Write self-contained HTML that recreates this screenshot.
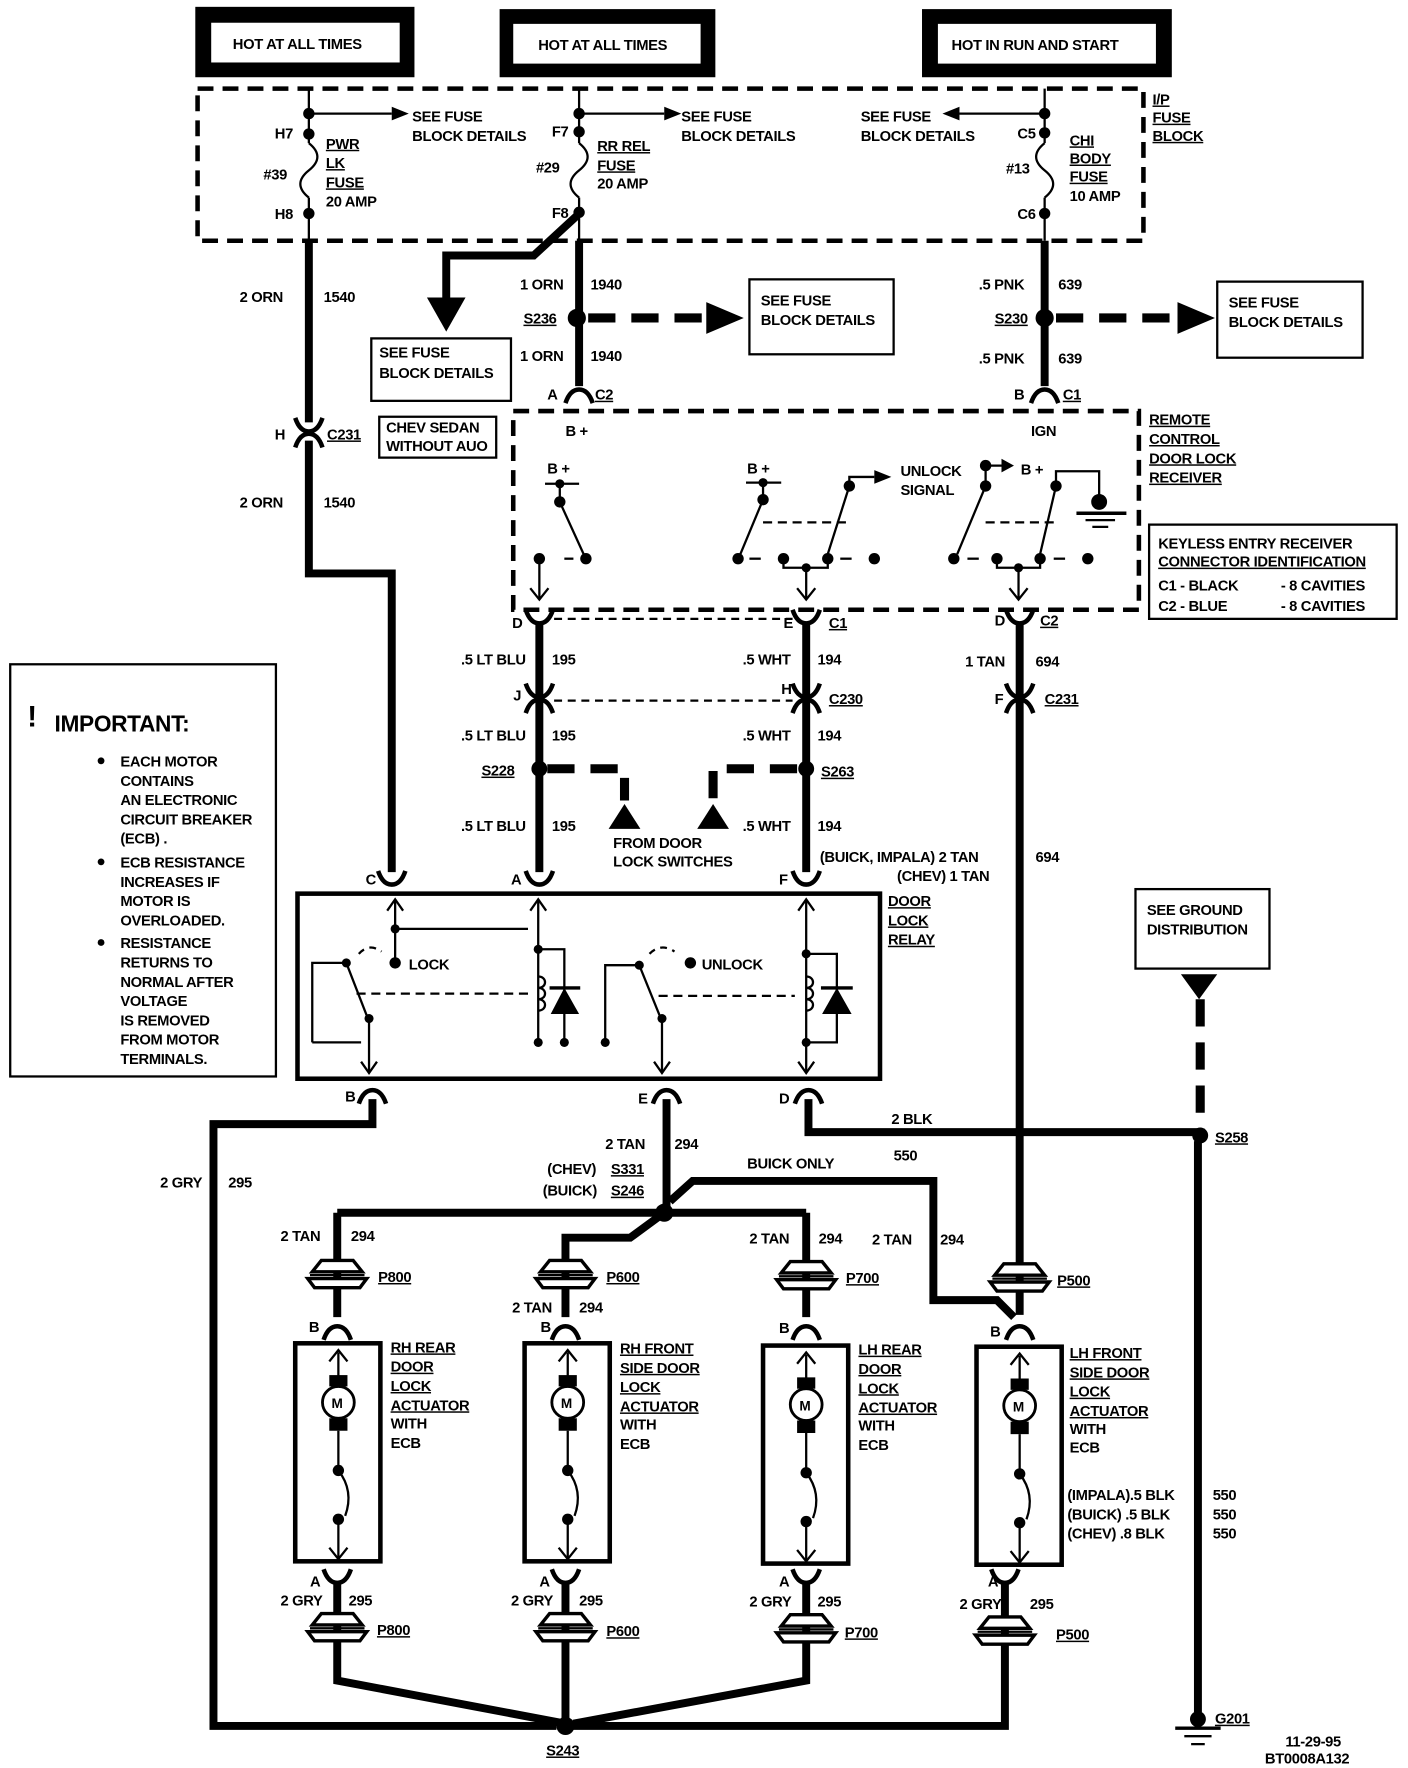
<!DOCTYPE html>
<html><head><meta charset="utf-8"><style>
html,body{margin:0;padding:0;background:#fff;}
svg{display:block;}
text{font-family:"Liberation Sans",sans-serif;font-weight:bold;font-size:13px;fill:#000;letter-spacing:-0.3px;}
.u{text-decoration:underline;}
</style></head><body>
<svg width="1408" height="1768" viewBox="0 0 1240 1557" xmlns="http://www.w3.org/2000/svg">
<defs>
<g id="cf"><path d="M-12,-8 Q-8,4 0,4 Q8,4 12,-8" fill="none" stroke="#000" stroke-width="4"/></g>
<g id="cm"><path d="M-12,8 Q-8,-4 0,-4 Q8,-4 12,8" fill="none" stroke="#000" stroke-width="4"/></g>
<g id="pc">
<path d="M-22,-4 L-14,-14 L14,-14 L22,-4 Z" fill="#fff" stroke="#000" stroke-width="3"/>
<path d="M-26,2 L26,2 L20,10 L-20,10 Z" fill="#fff" stroke="#000" stroke-width="3"/>
<line x1="-24" y1="-1" x2="24" y2="-1" stroke="#000" stroke-width="2"/>
</g>
<g id="act">
<rect x="0" y="0" width="75" height="192" fill="none" stroke="#000" stroke-width="4"/>
<line x1="38" y1="8" x2="38" y2="30" stroke="#000" stroke-width="2"/>
<path d="M30,16 L38,6 L46,16" fill="none" stroke="#000" stroke-width="2"/>
<rect x="30" y="28" width="16" height="10" fill="#000"/>
<circle cx="38" cy="52" r="14" fill="#fff" stroke="#000" stroke-width="2.5"/>
<text x="32" y="57" style="font-size:12px">M</text>
<rect x="30" y="66" width="16" height="11" fill="#000"/>
<line x1="38" y1="77" x2="38" y2="110" stroke="#000" stroke-width="2"/>
<circle cx="38" cy="112" r="5"/>
<path d="M38,112 Q52,130 44,152" fill="none" stroke="#000" stroke-width="2"/>
<circle cx="38" cy="155" r="5"/>
<line x1="38" y1="155" x2="38" y2="190" stroke="#000" stroke-width="2"/>
<path d="M30,180 L38,190 L46,180" fill="none" stroke="#000" stroke-width="2"/>
</g>
</defs>

<rect x="172" y="6" width="193" height="62" fill="#000"/><rect x="186" y="20" width="166" height="35" fill="#fff"/>
<text x="205" y="43">HOT AT ALL TIMES</text>
<rect x="440" y="8" width="190" height="60" fill="#000"/><rect x="452" y="21" width="165" height="35" fill="#fff"/>
<text x="474" y="44">HOT AT ALL TIMES</text>
<rect x="812" y="8" width="220" height="60" fill="#000"/><rect x="826" y="21" width="192" height="35" fill="#fff"/>
<text x="838" y="44">HOT IN RUN AND START</text>

<rect x="174" y="78" width="833" height="134" fill="none" stroke="#000" stroke-width="4" stroke-dasharray="14,8"/>
<text x="1015" y="92" class="u">I/P</text><text x="1015" y="108" class="u">FUSE</text><text x="1015" y="124" class="u">BLOCK</text>

<g stroke="#000" stroke-width="2" fill="none">
<line x1="272" y1="78" x2="272" y2="126"/><path d="M272,126 c10,8 10,16 0,24 c-10,8 -10,16 0,24"/><line x1="272" y1="174" x2="272" y2="212"/>
<line x1="272" y1="100" x2="345" y2="100"/>
<line x1="510" y1="78" x2="510" y2="126"/><path d="M510,126 c10,8 10,16 0,24 c-10,8 -10,16 0,24"/><line x1="510" y1="174" x2="510" y2="212"/>
<line x1="510" y1="100" x2="585" y2="100"/>
<line x1="920" y1="78" x2="920" y2="126"/><path d="M920,126 c-10,8 -10,16 0,24 c10,8 10,16 0,24"/><line x1="920" y1="174" x2="920" y2="212"/>
<line x1="920" y1="100" x2="845" y2="100"/>
</g>
<path d="M345,94 L360,100 L345,106Z"/><path d="M585,94 L600,100 L585,106Z"/><path d="M845,94 L830,100 L845,106Z"/>
<circle cx="272" cy="100" r="5"/><circle cx="272" cy="118" r="5"/><circle cx="272" cy="188" r="5"/>
<circle cx="510" cy="100" r="5"/><circle cx="510" cy="116" r="5"/><circle cx="510" cy="187" r="5"/>
<circle cx="920" cy="100" r="5"/><circle cx="920" cy="117" r="5"/><circle cx="920" cy="188" r="5"/>
<text x="363" y="107">SEE FUSE</text><text x="363" y="124">BLOCK DETAILS</text>
<text x="600" y="107">SEE FUSE</text><text x="600" y="124">BLOCK DETAILS</text>
<text x="758" y="107">SEE FUSE</text><text x="758" y="124">BLOCK DETAILS</text>
<text x="242" y="122">H7</text><text x="232" y="158">#39</text><text x="242" y="193">H8</text>
<text x="287" y="131" class="u">PWR</text><text x="287" y="148" class="u">LK</text><text x="287" y="165" class="u">FUSE</text><text x="287" y="182">20 AMP</text>
<text x="486" y="120">F7</text><text x="472" y="152">#29</text><text x="486" y="192">F8</text>
<text x="526" y="133" class="u">RR REL</text><text x="526" y="150" class="u">FUSE</text><text x="526" y="166">20 AMP</text>
<text x="896" y="122">C5</text><text x="886" y="153">#13</text><text x="896" y="193">C6</text>
<text x="942" y="128" class="u">CHI</text><text x="942" y="144" class="u">BODY</text><text x="942" y="160" class="u">FUSE</text><text x="942" y="177">10 AMP</text>

<g stroke="#000" stroke-width="7" fill="none">
<polyline points="272,212 272,372"/><polyline points="272,388 272,505 345,505 345,768"/>
<line x1="510" y1="212" x2="510" y2="340"/>
<polyline points="508,190 470,225 393,225 393,262"/>
<line x1="920" y1="212" x2="920" y2="340"/>
<line x1="475" y1="548" x2="475" y2="768"/>
<line x1="710" y1="548" x2="710" y2="768"/>
<line x1="898" y1="548" x2="898" y2="1158"/>
<polyline points="328,968 328,990 188,990 188,1520 490,1520"/>
<line x1="587" y1="968" x2="587" y2="1068"/>
<line x1="297" y1="1068" x2="710" y2="1068"/>
<polyline points="590,1058 610,1040 822,1040 822,1145 878,1145 893,1160"/>
<line x1="297" y1="1068" x2="297" y2="1160"/>
<polyline points="585,1068 555,1090 498,1090 498,1160"/>
<line x1="710" y1="1068" x2="710" y2="1160"/>
<polyline points="712,968 712,997 1055,997"/>
<line x1="1055" y1="1005" x2="1055" y2="1508"/>
<polyline points="297,1395 297,1480 498,1518"/>
<line x1="498" y1="1395" x2="498" y2="1515"/>
<polyline points="710,1395 710,1480 505,1518"/>
<polyline points="885,1395 885,1520 505,1520"/>
</g>
<path d="M376,262 L410,262 L393,292Z"/>
<g stroke="#000" stroke-width="8" fill="none" stroke-dasharray="24,14">
<line x1="518" y1="280" x2="625" y2="280"/><line x1="930" y1="280" x2="1040" y2="280"/>
<polyline points="482,677 550,677 550,705"/><polyline points="702,677 628,677 628,705"/>
<line x1="1057" y1="880" x2="1057" y2="995"/>
</g>
<path d="M622,266 L655,280 L622,294Z"/><path d="M1037,266 L1070,280 L1037,294Z"/>
<path d="M536,730 L564,730 L550,708Z"/>
<path d="M614,730 L642,730 L628,708Z"/>
<path d="M1040,858 L1072,858 L1056,880Z"/>
<circle cx="508" cy="280" r="8"/><circle cx="920" cy="280" r="8"/>
<circle cx="475" cy="677" r="7"/><circle cx="710" cy="677" r="7"/>
<circle cx="585" cy="1068" r="8"/><circle cx="1057" cy="1000" r="7"/><circle cx="498" cy="1520" r="8"/>

<text x="211" y="266">2 ORN</text><text x="285" y="266">1540</text>
<text x="458" y="255">1 ORN</text><text x="520" y="255">1940</text>
<text x="461" y="285" class="u">S236</text>
<text x="458" y="318">1 ORN</text><text x="520" y="318">1940</text>
<text x="862" y="255">.5 PNK</text><text x="932" y="255">639</text>
<text x="876" y="285" class="u">S230</text>
<text x="862" y="320">.5 PNK</text><text x="932" y="320">639</text>
<rect x="660" y="246" width="127" height="66" fill="none" stroke="#000" stroke-width="2"/>
<text x="670" y="269">SEE FUSE</text><text x="670" y="286">BLOCK DETAILS</text>
<rect x="1072" y="248" width="128" height="67" fill="none" stroke="#000" stroke-width="2"/>
<text x="1082" y="271">SEE FUSE</text><text x="1082" y="288">BLOCK DETAILS</text>
<rect x="327" y="298" width="123" height="55" fill="none" stroke="#000" stroke-width="2"/>
<text x="334" y="315">SEE FUSE</text><text x="334" y="333">BLOCK DETAILS</text>
<rect x="334" y="367" width="103" height="36" fill="none" stroke="#000" stroke-width="2"/>
<text x="340" y="381">CHEV SEDAN</text><text x="340" y="397">WITHOUT AUO</text>

<use href="#cf" x="272" y="376"/><use href="#cm" x="272" y="386"/>
<text x="242" y="387">H</text><text x="288" y="387" class="u">C231</text>
<text x="211" y="447">2 ORN</text><text x="285" y="447">1540</text>
<use href="#cm" x="510" y="347"/><text x="482" y="352">A</text><text x="524" y="352" class="u">C2</text>
<use href="#cm" x="920" y="347"/><text x="893" y="352">B</text><text x="936" y="352" class="u">C1</text>

<rect x="452" y="362" width="551" height="175" fill="none" stroke="#000" stroke-width="4" stroke-dasharray="14,8"/>
<text x="498" y="384">B +</text><text x="908" y="384">IGN</text>
<text x="1012" y="374" class="u">REMOTE</text><text x="1012" y="391" class="u">CONTROL</text><text x="1012" y="408" class="u">DOOR LOCK</text><text x="1012" y="425" class="u">RECEIVER</text>
<rect x="1012" y="462" width="218" height="83" fill="none" stroke="#000" stroke-width="2"/>
<text x="1020" y="483">KEYLESS ENTRY RECEIVER</text><text x="1020" y="499" class="u">CONNECTOR IDENTIFICATION</text>
<text x="1020" y="520">C1  -  BLACK</text><text x="1128" y="520">-  8 CAVITIES</text>
<text x="1020" y="538">C2  -  BLUE</text><text x="1128" y="538">-  8 CAVITIES</text>
<g stroke="#000" stroke-width="2" fill="none">
<line x1="480" y1="426" x2="510" y2="426"/><line x1="493" y1="426" x2="493" y2="442"/><line x1="493" y1="442" x2="514" y2="488"/>
<line x1="475" y1="492" x2="475" y2="528"/><path d="M467,518 L475,528 L483,518"/><line x1="497" y1="492" x2="505" y2="492"/>
<line x1="657" y1="425" x2="688" y2="425"/><line x1="672" y1="425" x2="672" y2="440"/><line x1="672" y1="440" x2="652" y2="488"/>
<polyline points="748,428 748,420 770,420"/><line x1="748" y1="428" x2="729" y2="488"/>
<line x1="672" y1="460" x2="748" y2="460" stroke-dasharray="8,5"/>
<polyline points="690,492 690,500 729,500 729,492"/><line x1="710" y1="500" x2="710" y2="528"/><path d="M702,518 L710,528 L718,518"/>
<line x1="660" y1="492" x2="670" y2="492"/><line x1="740" y1="492" x2="750" y2="492"/>
<polyline points="868,428 868,410 882,410"/><line x1="868" y1="428" x2="843" y2="488"/>
<polyline points="930,428 930,415 968,415 968,440"/><line x1="930" y1="428" x2="916" y2="488"/>
<line x1="868" y1="460" x2="930" y2="460" stroke-dasharray="8,5"/>
<polyline points="878,492 878,500 916,500 916,492"/><line x1="897" y1="500" x2="897" y2="528"/><path d="M889,518 L897,528 L905,518"/>
<line x1="852" y1="492" x2="862" y2="492"/><line x1="928" y1="492" x2="938" y2="492"/>
<line x1="948" y1="452" x2="992" y2="452" stroke-width="3"/><line x1="956" y1="458" x2="982" y2="458"/><line x1="962" y1="464" x2="976" y2="464"/>
</g>
<path d="M770,414 L785,420 L770,426Z"/><path d="M882,404 L893,410 L882,416Z"/>
<text x="793" y="419">UNLOCK</text><text x="793" y="436">SIGNAL</text><text x="899" y="418">B +</text>
<text x="658" y="417">B +</text><text x="482" y="417">B +</text>
<circle cx="493" cy="426" r="4"/><circle cx="493" cy="442" r="5"/><circle cx="516" cy="492" r="5"/><circle cx="475" cy="492" r="5"/>
<circle cx="672" cy="425" r="4"/><circle cx="672" cy="440" r="5"/><circle cx="748" cy="428" r="5"/><circle cx="650" cy="492" r="5"/><circle cx="690" cy="492" r="5"/><circle cx="729" cy="492" r="5"/><circle cx="770" cy="492" r="5"/><circle cx="710" cy="500" r="4"/>
<circle cx="868" cy="410" r="5"/><circle cx="868" cy="428" r="5"/><circle cx="930" cy="428" r="5"/><circle cx="840" cy="492" r="5"/><circle cx="878" cy="492" r="5"/><circle cx="916" cy="492" r="5"/><circle cx="958" cy="492" r="5"/><circle cx="897" cy="500" r="4"/>
<circle cx="968" cy="442" r="7"/>

<use href="#cf" x="475" y="545"/><use href="#cf" x="710" y="545"/><use href="#cf" x="898" y="545"/>
<line x1="488" y1="545" x2="698" y2="545" stroke="#000" stroke-width="2" stroke-dasharray="7,5"/>
<text x="451" y="553">D</text><text x="690" y="553">E</text><text x="730" y="553" class="u">C1</text>
<text x="876" y="551">D</text><text x="916" y="551" class="u">C2</text>
<text x="406" y="585">.5 LT BLU</text><text x="486" y="585">195</text>
<text x="654" y="585">.5 WHT</text><text x="720" y="585">194</text>
<text x="850" y="587">1 TAN</text><text x="912" y="587">694</text>
<use href="#cf" x="475" y="610"/><use href="#cm" x="475" y="620"/>
<use href="#cf" x="710" y="610"/><use href="#cm" x="710" y="620"/>
<use href="#cf" x="898" y="610"/><use href="#cm" x="898" y="620"/>
<line x1="488" y1="617" x2="698" y2="617" stroke="#000" stroke-width="2" stroke-dasharray="7,5"/>
<text x="452" y="617">J</text><text x="688" y="611">H</text><text x="730" y="620" class="u">C230</text>
<text x="876" y="620">F</text><text x="920" y="620" class="u">C231</text>
<text x="406" y="652">.5 LT BLU</text><text x="486" y="652">195</text>
<text x="654" y="652">.5 WHT</text><text x="720" y="652">194</text>
<text x="424" y="683" class="u">S228</text><text x="723" y="684" class="u">S263</text>
<text x="406" y="732">.5 LT BLU</text><text x="486" y="732">195</text>
<text x="654" y="732">.5 WHT</text><text x="720" y="732">194</text>
<text x="540" y="747">FROM DOOR</text><text x="540" y="763">LOCK SWITCHES</text>
<text x="722" y="759">(BUICK, IMPALA) 2 TAN</text><text x="912" y="759">694</text>
<text x="790" y="776">(CHEV) 1 TAN</text>
<use href="#cf" x="345" y="775"/><use href="#cf" x="475" y="775"/><use href="#cf" x="710" y="775"/>
<text x="322" y="779">C</text><text x="450" y="779">A</text><text x="686" y="779">F</text>

<rect x="262" y="787" width="513" height="163" fill="none" stroke="#000" stroke-width="4"/>
<text x="782" y="798" class="u">DOOR</text><text x="782" y="815" class="u">LOCK</text><text x="782" y="832" class="u">RELAY</text>
<g stroke="#000" stroke-width="2" fill="none">
<line x1="348" y1="792" x2="348" y2="848"/><path d="M341,802 L348,792 L355,802"/>
<polyline points="348,818 465,818 Q474,808 483,818 L608,818 608,848"/>
<line x1="474" y1="792" x2="474" y2="918"/><path d="M467,802 L474,792 L481,802"/>
<polyline points="474,836 497,836 497,918"/>
<path d="M474,860 c8,0 8,10 0,10 c8,0 8,10 0,10 c8,0 8,10 0,10"/>
<polyline points="275,918 275,848 305,848"/><line x1="305" y1="848" x2="324" y2="897"/>
<path d="M316,840 Q325,830 336,838" stroke-dasharray="6,5"/>
<line x1="314" y1="875" x2="470" y2="875" stroke-dasharray="8,5"/>
<polyline points="275,918 318,918 Q326,906 334,918 L565,918 Q573,906 581,918 L710,918"/>
<line x1="325" y1="897" x2="325" y2="945"/><path d="M318,935 L325,945 L332,935"/>
<polyline points="533,918 533,850 563,850"/><line x1="563" y1="850" x2="582" y2="897"/>
<path d="M572,840 Q582,830 594,838" stroke-dasharray="6,5"/>
<line x1="580" y1="877" x2="700" y2="877" stroke-dasharray="8,5"/>
<line x1="583" y1="897" x2="583" y2="945"/><path d="M576,935 L583,945 L590,935"/>
<line x1="710" y1="792" x2="710" y2="945"/><path d="M703,802 L710,792 L717,802"/><path d="M703,935 L710,945 L717,935"/>
<polyline points="710,840 737,840 737,918 710,918"/>
<path d="M710,860 c8,0 8,10 0,10 c8,0 8,10 0,10 c8,0 8,10 0,10"/>
</g>
<path d="M485,893 L510,893 L497,870Z"/><line x1="484" y1="870" x2="511" y2="870" stroke="#000" stroke-width="3"/>
<path d="M724,893 L750,893 L737,870Z"/><line x1="723" y1="870" x2="751" y2="870" stroke="#000" stroke-width="3"/>
<circle cx="348" cy="818" r="4"/><circle cx="348" cy="848" r="5"/><text x="360" y="854">LOCK</text>
<circle cx="608" cy="848" r="5"/><text x="618" y="854">UNLOCK</text>
<circle cx="474" cy="836" r="4"/><circle cx="474" cy="918" r="4"/><circle cx="497" cy="918" r="4"/><circle cx="533" cy="918" r="4"/><circle cx="710" cy="840" r="4"/><circle cx="710" cy="918" r="4"/>
<circle cx="305" cy="848" r="4"/><circle cx="325" cy="897" r="4"/><circle cx="563" cy="850" r="4"/><circle cx="583" cy="897" r="4"/>
<use href="#cm" x="328" y="964"/><use href="#cm" x="587" y="964"/><use href="#cm" x="712" y="964"/>
<text x="304" y="970">B</text><text x="562" y="972">E</text><text x="686" y="972">D</text>

<text x="785" y="990">2 BLK</text><text x="787" y="1022">550</text>
<text x="1070" y="1006" class="u">S258</text>
<rect x="1000" y="783" width="118" height="70" fill="none" stroke="#000" stroke-width="2"/>
<text x="1010" y="806">SEE GROUND</text><text x="1010" y="823">DISTRIBUTION</text>
<text x="533" y="1012">2 TAN</text><text x="594" y="1012">294</text>
<text x="482" y="1034">(CHEV)</text><text x="538" y="1034" class="u">S331</text>
<text x="478" y="1053">(BUICK)</text><text x="538" y="1053" class="u">S246</text>
<text x="658" y="1029">BUICK ONLY</text>
<text x="141" y="1046">2 GRY</text><text x="201" y="1046">295</text>
<text x="247" y="1093">2 TAN</text><text x="309" y="1093">294</text>
<text x="660" y="1095">2 TAN</text><text x="721" y="1095">294</text>
<text x="768" y="1096">2 TAN</text><text x="828" y="1096">294</text>
<text x="451" y="1156">2 TAN</text><text x="510" y="1156">294</text>

<use href="#pc" x="297" y="1124"/><text x="333" y="1129" class="u">P800</text>
<use href="#pc" x="498" y="1124"/><text x="534" y="1129" class="u">P600</text>
<use href="#pc" x="710" y="1125"/><text x="745" y="1130" class="u">P700</text>
<use href="#pc" x="898" y="1127"/><text x="931" y="1132" class="u">P500</text>
<use href="#cm" x="297" y="1172"/><text x="272" y="1173">B</text>
<use href="#cm" x="498" y="1172"/><text x="476" y="1173">B</text>
<use href="#cm" x="710" y="1172"/><text x="686" y="1174">B</text>
<use href="#cm" x="898" y="1172"/><text x="872" y="1177">B</text>

<use href="#act" x="260" y="1183"/><use href="#act" x="462" y="1183"/><use href="#act" x="672" y="1185"/><use href="#act" x="860" y="1186"/>
<text x="344" y="1191" class="u">RH REAR</text><text x="344" y="1208" class="u">DOOR</text><text x="344" y="1225" class="u">LOCK</text><text x="344" y="1242" class="u">ACTUATOR</text><text x="344" y="1258">WITH</text><text x="344" y="1275">ECB</text>
<text x="546" y="1192" class="u">RH FRONT</text><text x="546" y="1209" class="u">SIDE DOOR</text><text x="546" y="1226" class="u">LOCK</text><text x="546" y="1243" class="u">ACTUATOR</text><text x="546" y="1259">WITH</text><text x="546" y="1276">ECB</text>
<text x="756" y="1193" class="u">LH REAR</text><text x="756" y="1210" class="u">DOOR</text><text x="756" y="1227" class="u">LOCK</text><text x="756" y="1244" class="u">ACTUATOR</text><text x="756" y="1260">WITH</text><text x="756" y="1277">ECB</text>
<text x="942" y="1196" class="u">LH FRONT</text><text x="942" y="1213" class="u">SIDE DOOR</text><text x="942" y="1230" class="u">LOCK</text><text x="942" y="1247" class="u">ACTUATOR</text><text x="942" y="1263">WITH</text><text x="942" y="1279">ECB</text>
<text x="940" y="1321">(IMPALA).5 BLK</text><text x="1068" y="1321">550</text>
<text x="940" y="1338">(BUICK) .5 BLK</text><text x="1068" y="1338">550</text>
<text x="940" y="1355">(CHEV) .8 BLK</text><text x="1068" y="1355">550</text>

<use href="#cf" x="297" y="1390"/><text x="273" y="1397">A</text>
<use href="#cf" x="498" y="1390"/><text x="475" y="1397">A</text>
<use href="#cf" x="710" y="1390"/><text x="686" y="1397">A</text>
<use href="#cf" x="885" y="1390"/><text x="870" y="1397">A</text>
<text x="247" y="1414">2 GRY</text><text x="307" y="1414">295</text>
<text x="450" y="1414">2 GRY</text><text x="510" y="1414">295</text>
<text x="660" y="1415">2 GRY</text><text x="720" y="1415">295</text>
<text x="845" y="1417">2 GRY</text><text x="907" y="1417">295</text>
<use href="#pc" x="297" y="1435"/><text x="332" y="1440" class="u">P800</text>
<use href="#pc" x="498" y="1435"/><text x="534" y="1441" class="u">P600</text>
<use href="#pc" x="710" y="1436"/><text x="744" y="1442" class="u">P700</text>
<use href="#pc" x="885" y="1438"/><text x="930" y="1444" class="u">P500</text>
<text x="481" y="1546" class="u">S243</text>

<circle cx="1055" cy="1514" r="7"/>
<line x1="1035" y1="1522" x2="1075" y2="1522" stroke="#000" stroke-width="3"/>
<line x1="1043" y1="1529" x2="1067" y2="1529" stroke="#000" stroke-width="2"/>
<line x1="1049" y1="1536" x2="1061" y2="1536" stroke="#000" stroke-width="2"/>
<text x="1070" y="1518" class="u">G201</text>
<text x="1132" y="1538">11-29-95</text><text x="1114" y="1553">BT0008A132</text>

<rect x="9" y="585" width="234" height="363" fill="none" stroke="#000" stroke-width="2"/>
<text x="24" y="640" style="font-size:26px">!</text>
<text x="48" y="644" style="font-size:20px">IMPORTANT:</text>
<g style="font-size:12.5px">
<circle cx="89" cy="670" r="3"/>
<text x="106" y="675">EACH MOTOR</text><text x="106" y="692">CONTAINS</text><text x="106" y="709">AN ELECTRONIC</text><text x="106" y="726">CIRCUIT BREAKER</text><text x="106" y="743">(ECB) .</text>
<circle cx="89" cy="759" r="3"/>
<text x="106" y="764">ECB RESISTANCE</text><text x="106" y="781">INCREASES IF</text><text x="106" y="798">MOTOR IS</text><text x="106" y="815">OVERLOADED.</text>
<circle cx="89" cy="830" r="3"/>
<text x="106" y="835">RESISTANCE</text><text x="106" y="852">RETURNS TO</text><text x="106" y="869">NORMAL AFTER</text><text x="106" y="886">VOLTAGE</text><text x="106" y="903">IS REMOVED</text><text x="106" y="920">FROM MOTOR</text><text x="106" y="937">TERMINALS.</text>
</g>
</svg>
</body></html>
